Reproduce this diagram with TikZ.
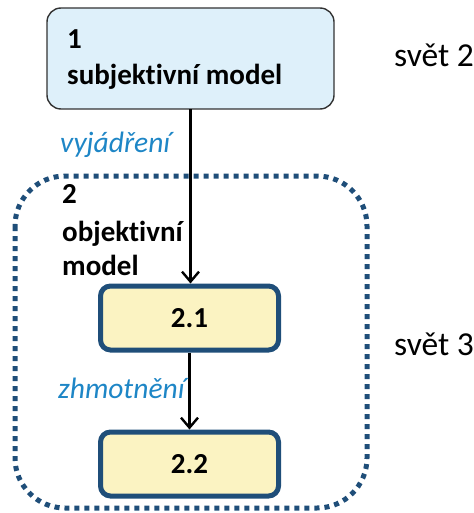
\documentclass[tikz,border=0pt]{standalone}
\usepackage{fontspec}
\setmainfont{Carlito}[Ligatures=NoCommon]
\usetikzlibrary{arrows.meta}
\definecolor{boxblue}{HTML}{DEF0FA}
\definecolor{boxyellow}{HTML}{FBF3C2}
\definecolor{darkblue}{HTML}{1F4E79}
\definecolor{labelblue}{HTML}{1E86C6}
\definecolor{darkgray}{HTML}{333333}
\tikzset{
  topbox/.style={draw=darkgray, line width=1.4pt, fill=boxblue, rounded corners=14pt},
  innerbox/.style={draw=darkblue, line width=5pt, fill=boxyellow, rounded corners=10pt,
    minimum width=178pt, minimum height=64pt, font=\fontsize{29}{32}\selectfont\bfseries},
  boldtext/.style={font=\fontsize{29}{32}\selectfont\bfseries, anchor=base west, inner sep=0pt},
  world/.style={font=\fontsize{33.5}{36}\selectfont, anchor=base west, inner sep=0pt},
  verb/.style={font=\fontsize{29.5}{32}\selectfont\itshape, text=labelblue, anchor=base west, inner sep=0pt},
  flow/.style={line width=2.4pt, -{Straight Barb[length=10pt, width=17pt, line width=2.4pt]}},
  group/.style={draw=darkblue, line width=5pt, dash pattern=on 5pt off 5pt, rounded corners=50pt}
}
\begin{document}
\begin{tikzpicture}[x=1pt, y=-1pt]
  \useasboundingbox (0,0) rectangle (473,513);
  % the grouping border of the objective model
  \draw[group] (15,176) rectangle (367,508);
  % top box
  \draw[topbox] (47,8) rectangle (334,109);
  \node (b1) at (190.5,58.5) [minimum width=287pt, minimum height=101pt] {};
  \node[boldtext] (t1) at (67,49) {1};
  \node[boldtext] (t1b) at (67,85) {subjektivní model};
  % inner boxes
  \node[innerbox] (b21) at (189.5,318) {2.1};
  \node[innerbox] (b22) at (189.5,464) {2.2};
  % label of the group
  \node[boldtext] (t2a) at (62,203) {2};
  \node[boldtext] (t2b) at (62,241) {objektivní};
  \node[boldtext] (t2c) at (62,275) {model};
  % worlds
  \node[world] (w2) at (394,67) {svět 2};
  \node[world] (w3) at (394,355) {svět 3};
  % connectors
  \draw[flow] (b1.south) -- (b1.south |- b21.north);
  \draw[flow] (b21.south) -- (b22.north);
  \node[verb] (v1) at (60,153) {vyjádření};
  \node[verb] (v2) at (58,398) {zhmotnění};
\end{tikzpicture}
\end{document}
